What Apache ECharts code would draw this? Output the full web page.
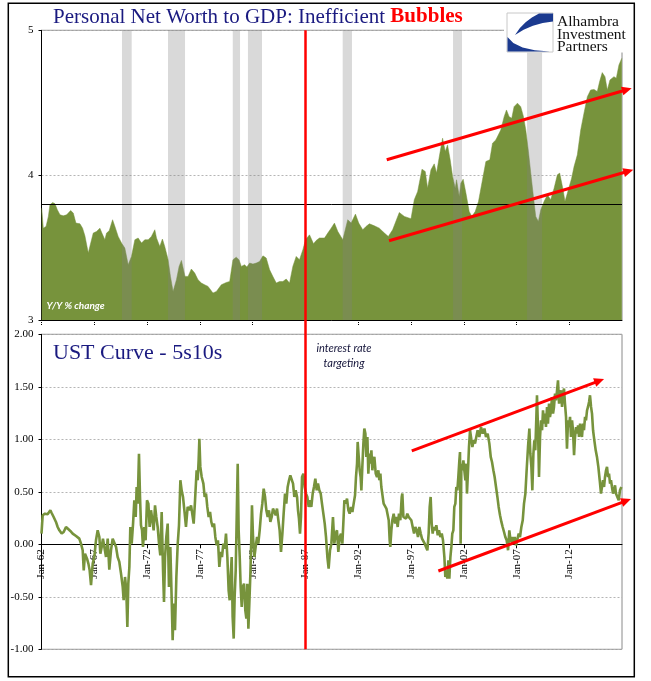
<!DOCTYPE html>
<html><head><meta charset="utf-8">
<script src="https://cdn.jsdelivr.net/npm/echarts@6/dist/echarts.min.js"></script>
<style>html,body{margin:0;padding:0;background:#fff}#c{width:651px;height:681px}</style>
</head><body><div id="c"></div>
<script>
// ---------- DATA ----------
const tickYears = [1962,1967,1972,1977,1982,1987,1992,1997,2002,2007,2012];
const policyYear = 1987;           // "interest rate targeting"
const avgRatio = 3.8;              // long-run average line
const recStart = [1969.62,1973.98,1980.11,1981.55,1990.52,2000.97,2007.98];
const recEnd   = [1970.54,1975.59,1980.80,1982.88,1991.40,2001.82,2009.40];

const nwYears = [1962.02,1962.17,1962.43,1962.65,1962.80,1963.06,1963.28,1963.50,1963.75,1964.06,
1964.38,1964.76,1965.01,1965.26,1965.64,1965.89,1966.11,1966.43,1966.58,1966.90,
1967.21,1967.53,1967.72,1968.00,1968.16,1968.41,1968.73,1968.95,1969.26,1969.58,
1969.89,1970.21,1970.52,1970.84,1971.15,1971.47,1971.78,1972.10,1972.41,1972.73,
1972.89,1973.20,1973.45,1973.67,1973.99,1974.21,1974.46,1974.78,1975.03,1975.25,
1975.41,1975.59,1975.88,1976.19,1976.51,1976.82,1977.14,1977.45,1977.77,1978.24,
1978.56,1978.71,1979.03,1979.50,1979.82,1979.97,1980.13,1980.44,1980.70,1980.92,
1981.23,1981.45,1981.71,1982.02,1982.34,1982.65,1982.97,1983.28,1983.60,1983.91,
1984.23,1984.54,1984.86,1985.17,1985.49,1985.80,1986.12,1986.43,1986.75,1987.00,
1987.38,1987.54,1987.76,1988.01,1988.32,1988.80,1989.11,
1989.43,1989.74,1990.06,1990.53,1991.00,1991.32,1991.73,1992.04,1992.42,1992.73,
1993.05,1993.52,1993.99,1994.47,1994.84,1995.25,1995.88,1996.36,1996.99,1997.30,
1997.62,1997.78,1998.03,1998.34,1998.56,1998.88,1999.19,1999.41,1999.67,1999.98,
2000.23,2000.45,2000.70,2000.93,2001.18,2001.30,2001.56,2001.71,2001.93,2002.19,
2002.50,2002.75,2003.07,2003.38,2003.76,2004.08,2004.45,2004.71,2005.02,2005.49,
2005.81,2006.03,2006.28,2006.53,2006.75,2007.07,2007.38,2007.64,2007.86,2008.11,
2008.33,2008.58,2008.80,2009.05,2009.28,2009.59,2009.91,2010.22,2010.54,2010.85,
2011.07,2011.39,2011.57,2011.89,2012.20,2012.43,2012.74,2013.06,2013.37,2013.69,
2014.00,2014.32,2014.63,2014.85,2015.10,2015.36,2015.58,2015.83,2016.21,2016.43,
2016.68,2016.95];
const nwRatio = [3.772,3.634,3.646,3.715,3.795,3.811,3.802,3.761,3.726,3.719,
3.726,3.756,3.738,3.669,3.664,3.634,3.581,3.462,3.508,3.600,
3.611,3.634,3.600,3.554,3.600,3.616,3.692,3.646,3.577,3.531,
3.497,3.381,3.439,3.554,3.566,3.531,3.554,3.554,3.577,3.623,
3.566,3.508,3.559,3.508,3.416,3.301,3.197,3.278,3.370,3.411,
3.359,3.301,3.301,3.352,3.324,3.278,3.255,3.243,3.232,3.186,
3.197,3.186,3.243,3.259,3.266,3.255,3.416,3.434,3.416,3.370,
3.381,3.366,3.393,3.386,3.393,3.404,3.443,3.428,3.347,3.301,
3.255,3.266,3.266,3.283,3.255,3.370,3.439,3.416,3.485,3.554,
3.588,3.600,3.526,3.549,3.566,3.566,3.600,
3.634,3.669,3.611,3.554,3.692,3.669,3.731,3.669,3.623,3.646,
3.664,3.650,3.634,3.600,3.577,3.623,3.742,3.715,3.699,3.830,
3.887,3.887,4.041,4.025,3.910,4.037,4.078,4.014,4.128,4.255,
4.163,4.209,4.106,3.991,3.910,3.968,3.853,3.945,3.972,3.876,
3.749,3.715,3.749,3.818,3.968,4.094,4.106,4.221,4.243,4.312,
4.404,4.450,4.404,4.393,4.473,4.497,4.473,4.404,4.312,4.163,
4.014,3.853,3.715,3.680,3.761,3.818,3.864,3.830,3.910,4.002,
4.014,3.899,3.818,3.899,3.979,4.059,4.140,4.312,4.428,4.542,
4.588,4.592,4.577,4.646,4.708,4.680,4.588,4.657,4.680,4.669,
4.761,4.807];

const ust5s10s = [
[1962.00,0.102],[1962.11,0.276],[1962.33,0.292],[1962.58,0.286],[1962.84,0.324],[1962.96,0.298],[1963.15,0.260],[1963.37,0.213],[1963.53,0.165],[1963.69,0.133],[1963.91,0.102],[1964.10,0.117],[1964.32,0.165],[1964.48,0.171],[1964.73,0.127],[1964.95,0.102],[1965.27,0.079],[1965.58,0.054],[1965.74,0.006],[1965.90,-0.057],[1966.00,-0.248],[1966.12,-0.089],[1966.31,-0.137],[1966.44,-0.184],[1966.56,-0.248],[1966.69,-0.390],[1966.85,-0.184],[1967.00,-0.121],[1967.16,0.038],[1967.32,0.133],[1967.48,0.070],[1967.57,-0.089],[1967.70,-0.025],[1967.82,0.054],[1967.95,-0.025],[1968.11,-0.121],[1968.27,0.054],[1968.42,-0.241],[1968.58,-0.057],[1968.74,0.054],[1968.90,0.070],[1969.06,-0.025],[1969.21,-0.121],[1969.37,-0.168],[1969.53,-0.279],[1969.69,-0.406],[1969.78,-0.533],[1969.91,-0.311],[1970.03,-0.438],[1970.13,-0.787],[1970.22,-0.375],[1970.32,-0.216],[1970.41,0.165],[1970.54,0.006],[1970.67,0.197],[1970.79,0.419],[1970.92,0.260],[1971.01,0.546],[1971.11,0.387],[1971.23,0.863],[1971.33,0.451],[1971.42,0.181],[1971.52,0.133],[1971.61,-0.025],[1971.74,0.165],[1971.86,0.038],[1971.99,0.419],[1972.12,0.387],[1972.24,0.165],[1972.37,0.324],[1972.50,0.229],[1972.62,0.133],[1972.75,0.371],[1972.87,0.260],[1973.00,0.165],[1973.13,0.006],[1973.25,-0.105],[1973.38,0.308],[1973.51,-0.248],[1973.60,-0.549],[1973.70,-0.121],[1973.82,0.070],[1973.95,0.197],[1974.07,-0.406],[1974.20,-0.025],[1974.33,-0.533],[1974.42,-0.914],[1974.52,-0.565],[1974.64,-0.819],[1974.77,-0.311],[1974.90,0.006],[1975.02,0.181],[1975.15,0.610],[1975.27,0.514],[1975.40,0.451],[1975.53,0.324],[1975.68,0.165],
[1975.84,0.356],[1976.00,0.324],[1976.16,0.371],[1976.32,0.387],[1976.41,0.197],[1976.54,0.419],[1976.69,0.705],[1976.79,0.610],[1976.88,0.800],[1976.95,1.006],[1977.04,0.737],[1977.17,0.641],[1977.33,0.578],[1977.45,0.451],[1977.58,0.483],[1977.70,0.356],[1977.83,0.260],[1977.96,0.308],[1978.08,0.213],[1978.21,0.165],[1978.34,0.197],[1978.46,0.070],[1978.59,-0.010],[1978.71,0.038],[1978.84,-0.216],[1978.97,-0.073],[1979.09,-0.121],[1979.22,0.006],[1979.35,-0.041],[1979.47,0.102],[1979.60,-0.121],[1979.72,-0.438],[1979.82,-0.533],[1979.91,-0.311],[1980.01,-0.121],[1980.10,-0.692],[1980.20,-0.898],[1980.29,-0.502],[1980.39,-0.248],[1980.48,0.229],[1980.58,0.768],[1980.67,0.133],[1980.77,-0.121],[1980.86,-0.406],[1980.96,-0.597],[1981.05,-0.406],[1981.18,-0.375],[1981.30,-0.629],[1981.40,-0.708],[1981.49,-0.375],[1981.59,-0.803],[1981.68,-0.565],[1981.78,-0.279],[1981.87,0.070],[1981.93,0.371],[1982.03,0.070],[1982.16,-0.121],[1982.28,-0.025],[1982.41,0.070],[1982.53,0.006],[1982.66,0.133],[1982.79,0.292],[1982.91,0.387],[1983.04,0.530],[1983.17,0.451],[1983.29,0.324],[1983.42,0.260],[1983.54,0.324],[1983.67,0.213],[1983.80,0.260],[1983.92,0.340],[1984.05,0.356],[1984.18,0.276],[1984.30,0.340],[1984.43,0.229],[1984.55,0.133],[1984.68,-0.073],[1984.81,0.102],[1984.93,0.292],[1985.06,0.483],[1985.18,0.387],[1985.31,0.546],[1985.44,0.610],[1985.56,0.657],[1985.69,0.673],[1985.82,0.578],[1985.94,0.451],[1986.07,0.514],[1986.20,0.451],[1986.29,0.324],[1986.38,0.244],[1986.48,0.102],[1986.57,0.260],[1986.67,0.641],[1986.80,0.673],[1986.92,0.546],[1987.05,0.483],[1987.17,0.451],[1987.30,0.356],[1987.43,0.419],[1987.55,0.356],[1987.68,0.483],[1987.80,0.546],[1987.93,0.625],[1988.06,0.514],[1988.18,0.578],[1988.31,0.514],[1988.44,0.483],[1988.56,0.387],[1988.69,0.292],[1988.82,0.197],[1988.94,0.070],[1989.07,-0.121],[1989.19,-0.232],[1989.32,-0.057],[1989.45,0.006],
[1989.60,0.260],[1989.73,0.006],[1989.86,0.102],[1989.98,0.133],[1990.11,-0.073],[1990.24,0.070],[1990.36,0.102],[1990.49,0.006],[1990.58,0.197],[1990.68,0.419],[1990.80,0.387],[1990.93,0.435],[1991.06,0.324],[1991.18,0.292],[1991.31,0.356],[1991.44,0.308],[1991.56,0.387],[1991.69,0.467],[1991.78,0.641],[1991.88,0.768],[1991.94,0.975],[1992.04,0.832],[1992.13,0.705],[1992.22,0.641],[1992.29,0.514],[1992.38,0.737],[1992.48,0.959],[1992.57,1.102],[1992.67,1.054],[1992.76,0.832],[1992.86,1.022],[1992.95,0.673],[1993.05,0.863],[1993.14,0.768],[1993.24,0.895],[1993.33,0.705],[1993.42,0.800],[1993.52,0.832],[1993.65,0.673],[1993.77,0.641],[1993.90,0.705],[1993.99,0.610],[1994.09,0.673],[1994.18,0.546],[1994.31,0.451],[1994.40,0.387],[1994.53,0.371],[1994.66,0.340],[1994.78,0.324],[1994.88,0.229],[1994.97,0.038],[1995.03,-0.025],[1995.13,0.133],[1995.22,0.229],[1995.35,0.292],[1995.48,0.197],[1995.60,0.260],[1995.73,0.165],[1995.85,0.292],[1995.98,0.229],[1996.11,0.451],[1996.17,0.483],[1996.27,0.260],[1996.39,0.260],[1996.52,0.244],[1996.64,0.292],[1996.77,0.260],[1996.90,0.276],[1997.02,0.229],[1997.15,0.165],[1997.28,0.102],[1997.40,0.165],[1997.53,0.133],[1997.65,0.070],[1997.78,0.165],[1997.91,0.102],[1998.03,0.054],[1998.16,0.038],[1998.29,0.006],[1998.41,-0.025],[1998.54,-0.057],[1998.66,0.102],[1998.76,0.356],[1998.85,0.451],[1998.95,0.197],[1999.04,0.102],[1999.14,0.165],[1999.26,0.133],[1999.39,0.181],[1999.52,0.086],[1999.64,0.133],[1999.77,0.070],[1999.90,0.102],[2000.02,0.038],[2000.15,-0.121],[2000.24,-0.311],[2000.34,-0.248],[2000.43,-0.327],[2000.53,-0.152],[2000.62,-0.327],[2000.72,-0.121],[2000.81,-0.025],[2000.90,0.102],[2001.00,0.133],[2001.09,0.356],[2001.19,0.387],[2001.28,0.546],[2001.38,0.514],[2001.47,0.641],[2001.57,0.800],[2001.63,0.879],[2001.69,0.006],[2001.76,0.768],[2001.85,0.705],[2001.95,0.800],[2002.04,0.705],[2002.14,0.610],[2002.23,0.768],[2002.29,0.483],[2002.39,0.705],[2002.48,0.927],[2002.58,1.086],[2002.67,1.022],[2002.80,0.927],[2002.93,0.990],[2003.05,0.959],
[2003.30,1.086],[2003.46,1.022],[2003.62,1.117],[2003.78,1.054],[2003.94,1.102],[2004.09,1.022],[2004.25,1.054],[2004.41,0.959],[2004.54,0.832],[2004.66,0.784],[2004.79,0.705],[2004.91,0.641],[2005.04,0.546],[2005.17,0.451],[2005.29,0.356],[2005.42,0.276],[2005.55,0.213],[2005.67,0.165],[2005.80,0.117],[2005.92,0.070],[2006.05,0.038],[2006.18,-0.057],[2006.30,0.133],[2006.43,0.022],[2006.56,0.070],[2006.68,0.006],[2006.81,0.070],[2006.93,-0.010],[2007.06,0.006],[2007.19,0.102],[2007.31,0.070],[2007.44,0.165],[2007.57,0.229],[2007.69,0.387],[2007.82,0.483],[2007.94,0.705],[2008.07,0.927],[2008.20,1.102],[2008.29,0.863],[2008.39,0.737],[2008.48,0.514],[2008.58,0.863],[2008.67,0.990],[2008.76,0.895],[2008.86,1.213],[2008.92,1.419],[2009.02,1.086],[2009.11,0.641],[2009.21,1.022],[2009.30,1.181],[2009.40,1.086],[2009.49,1.276],[2009.59,1.149],[2009.68,1.244],[2009.77,1.117],[2009.87,1.308],[2009.96,1.149],[2010.06,1.340],[2010.15,1.213],[2010.25,1.276],[2010.34,1.403],[2010.44,1.244],[2010.53,1.308],[2010.63,1.435],[2010.72,1.371],[2010.82,1.467],[2010.91,1.562],[2011.01,1.340],[2011.10,1.403],[2011.20,1.467],[2011.29,1.308],[2011.39,1.435],[2011.48,1.483],[2011.57,1.340],[2011.67,1.213],[2011.76,0.911],[2011.86,1.181],[2011.95,1.117],[2012.05,1.213],[2012.14,1.022],[2012.24,1.181],[2012.33,1.086],[2012.43,0.848],[2012.52,1.022],[2012.62,1.117],[2012.71,1.054],[2012.81,1.133],[2012.90,1.022],[2013.00,1.149],[2013.09,1.086],[2013.18,1.022],[2013.28,1.149],[2013.37,1.086],[2013.47,1.213],[2013.56,1.181],[2013.66,1.276],[2013.75,1.308],[2013.85,1.356],[2013.94,1.419],[2014.04,1.308],[2014.13,1.244],[2014.23,1.086],[2014.35,0.990],[2014.48,0.895],[2014.60,0.832],[2014.73,0.737],[2014.86,0.610],[2014.98,0.483],[2015.08,0.467],[2015.17,0.610],[2015.27,0.546],[2015.36,0.641],[2015.46,0.705],[2015.55,0.737],[2015.65,0.641],[2015.74,0.673],[2015.84,0.578],[2015.93,0.610],[2016.02,0.546],[2016.12,0.483],[2016.21,0.514],[2016.31,0.562],[2016.40,0.483],[2016.53,0.451],[2016.66,0.419],[2016.78,0.514],[2016.91,0.546]
];

// trend arrows (data coordinates: [x0, y0, x1, y1])
const arrowsTop    = [[1994.69,4.106,2017.89,4.600],[1994.91,3.547,2018.04,4.037]];
const arrowsBottom = [[1997.06,0.889,2015.27,1.574],[1999.58,-0.254,2017.82,0.431]];

// ---------- CHART ----------
const X0 = 1962, X1 = 2016.97;
const Y1min = -1, Y1max = 2, G1H = 315;
const serif = 'Liberation Serif';
const olive = '#77933C';
const navy = '#1a1a80';
const chart = echarts.init(document.getElementById('c'), null, {renderer:'canvas', width:651, height:681});

const option = {
  animation: false,
  backgroundColor: '#ffffff',
  grid: [
    {left:41.5, top:30.3, width:580.5, height:289.7, show:true, borderColor:'#8a8a8a', borderWidth:1, backgroundColor:'transparent'},
    {left:41.5, top:334.3, width:580.5, height:G1H, show:true, borderColor:'#8a8a8a', borderWidth:1, backgroundColor:'transparent'}
  ],
  xAxis: [
    {type:'value', gridIndex:0, min:X0, max:X1,
     axisLine:{show:true, onZero:false, lineStyle:{color:'#000', width:1}},
     axisTick:{show:true, customValues:tickYears, length:5, lineStyle:{color:'#000', type:'dotted', width:1}},
     axisLabel:{show:false}, splitLine:{show:false}},
    {type:'value', gridIndex:1, min:X0, max:X1, position:'bottom',
     offset: -G1H * (0 - Y1min) / (Y1max - Y1min),   // sit on the 0.00 line
     axisLine:{show:true, onZero:false, lineStyle:{color:'#000', width:1}},
     axisTick:{show:true, customValues:tickYears, length:4, lineStyle:{color:'#000'}},
     axisLabel:{show:true, customValues:tickYears, rotate:90, margin:5, fontFamily:serif, fontSize:11, color:'#000',
       formatter: v => 'Jan-' + String(Math.round(v)).slice(2)},
     splitLine:{show:false}}
  ],
  yAxis: [
    {type:'value', gridIndex:0, min:3, max:5, interval:1,
     axisLine:{show:true, lineStyle:{color:'#000'}},
     axisTick:{show:true, length:3, lineStyle:{color:'#000'}},
     axisLabel:{margin:8, fontFamily:serif, fontSize:11, color:'#000'},
     splitLine:{show:true, lineStyle:{color:'#b5b5b5', type:[2,2], width:1}}},
    {type:'value', gridIndex:1, min:Y1min, max:Y1max, interval:0.5,
     axisLine:{show:true, lineStyle:{color:'#000'}},
     axisTick:{show:true, length:3, lineStyle:{color:'#000'}},
     axisLabel:{margin:8, fontFamily:serif, fontSize:11, color:'#000', formatter: v => v.toFixed(2)},
     splitLine:{show:true, lineStyle:{color:'#b5b5b5', type:[2,2], width:1}}}
  ],
  series: [
    {type:'line', xAxisIndex:0, yAxisIndex:0, symbol:'none', silent:true,
     data: nwYears.map((y,i)=>[y, nwRatio[i]]),
     lineStyle:{width:0.5, color:olive},
     areaStyle:{color:olive, opacity:1, origin:'start'},
     z:2,
     markArea:{silent:true, z:3, itemStyle:{color:'rgba(128,128,128,0.3)'},
       data: recStart.map((s,i)=>[{xAxis:s},{xAxis:recEnd[i]}])},
     markLine:{silent:true, z:5, symbol:'none', label:{show:false},
       lineStyle:{color:'#000', width:1, type:'solid'}, data:[{yAxis:avgRatio}]}
    },
    {type:'line', xAxisIndex:1, yAxisIndex:1, symbol:'none', silent:true,
     data: ust5s10s,
     lineStyle:{width:2.6, color:olive}, z:2}
  ]
};
chart.setOption(option);

// ---------- ANNOTATIONS (positions from the axes' scales) ----------
const p0 = (x,y)=>chart.convertToPixel({xAxisIndex:0, yAxisIndex:0}, [x,y]);
const p1 = (x,y)=>chart.convertToPixel({xAxisIndex:1, yAxisIndex:1}, [x,y]);
function arrow(a, b){
  const dx=b[0]-a[0], dy=b[1]-a[1], L=Math.hypot(dx,dy), ux=dx/L, uy=dy/L;
  const hl=10, hw=4.5;
  const bx=b[0]-ux*hl, by=b[1]-uy*hl;
  return [
    {type:'line', z:50, shape:{x1:a[0], y1:a[1], x2:bx+ux*2, y2:by+uy*2}, style:{stroke:'#FF0000', lineWidth:3}},
    {type:'polygon', z:50, shape:{points:[[b[0],b[1]],[bx-uy*hw, by+ux*hw],[bx+uy*hw, by-ux*hw]]}, style:{fill:'#FF0000'}}
  ];
}
const g = [];
// outer frame
g.push({type:'rect', z:1, shape:{x:8.3, y:3.3, width:626, height:673.4}, style:{fill:'none', stroke:'#000', lineWidth:1.5}});
// policy line across both panels
const vt = p0(policyYear, 5), vb = p1(policyYear, -1);
g.push({type:'line', z:40, shape:{x1:vt[0], y1:vt[1], x2:vb[0], y2:vb[1]}, style:{stroke:'#FF0000', lineWidth:2.5}});
arrowsTop.forEach(a => g.push(...arrow(p0(a[0],a[1]), p0(a[2],a[3]))));
arrowsBottom.forEach(a => g.push(...arrow(p1(a[0],a[1]), p1(a[2],a[3]))));
// titles
g.push({type:'text', z:60, x:53, y:17, style:{text:'{a|Personal Net Worth to GDP: Inefficient }{b|Bubbles}', verticalAlign:'middle',
  rich:{a:{fontFamily:serif, fontSize:21, fill:navy}, b:{fontFamily:serif, fontSize:21, fontWeight:'bold', fill:'#FF0000'}}}});
g.push({type:'text', z:60, x:53, y:353.3, style:{text:'UST Curve - 5s10s', fontFamily:serif, fontSize:22, fill:navy, verticalAlign:'middle'}});
g.push({type:'text', z:60, x:46.5, y:305.5, style:{text:'Y/Y % change', fontFamily:'Lato', fontSize:10, fontStyle:'italic', fontWeight:'bold', fill:'#ffffff', verticalAlign:'middle'}});
g.push({type:'text', z:60, x:344, y:348, style:{text:'interest rate', fontFamily:'Lato', fontSize:11, fontStyle:'italic', fill:'#14143a', align:'center', verticalAlign:'middle'}});
g.push({type:'text', z:60, x:344, y:363.5, style:{text:'targeting', fontFamily:'Lato', fontSize:11, fontStyle:'italic', fill:'#14143a', align:'center', verticalAlign:'middle'}});
// logo
g.push({type:'rect', z:70, shape:{x:504, y:6, width:129, height:46.5}, style:{fill:'#ffffff'}});
g.push({type:'rect', z:71, shape:{x:507, y:13, width:46, height:39}, style:{fill:'#ffffff', stroke:'#c8c8c8', lineWidth:1}});
g.push({type:'polygon', z:72, shape:{points:[[553,13.5],[539,13.5],[531.9,17.4],[525.6,22.2],[519.9,28.1],[515,35],[523.6,29.7],[532.9,25.8],[542.7,23.1],[553,21.5]]}, style:{fill:'#1b3a8f'}});
g.push({type:'polygon', z:72, shape:{points:[[507.5,37],[513.3,43],[522.6,47.4],[534.8,50.3],[550,51.5],[507.5,51.5]]}, style:{fill:'#1b3a8f'}});
[['Alhambra',22],['Investment',34.5],['Partners',47]].forEach(t => g.push({type:'text', z:72, x:557, y:t[1],
  style:{text:t[0], fontFamily:serif, fontSize:15.5, fill:'#111', verticalAlign:'middle'}}));
chart.setOption({graphic: g});
</script>
</body></html>
